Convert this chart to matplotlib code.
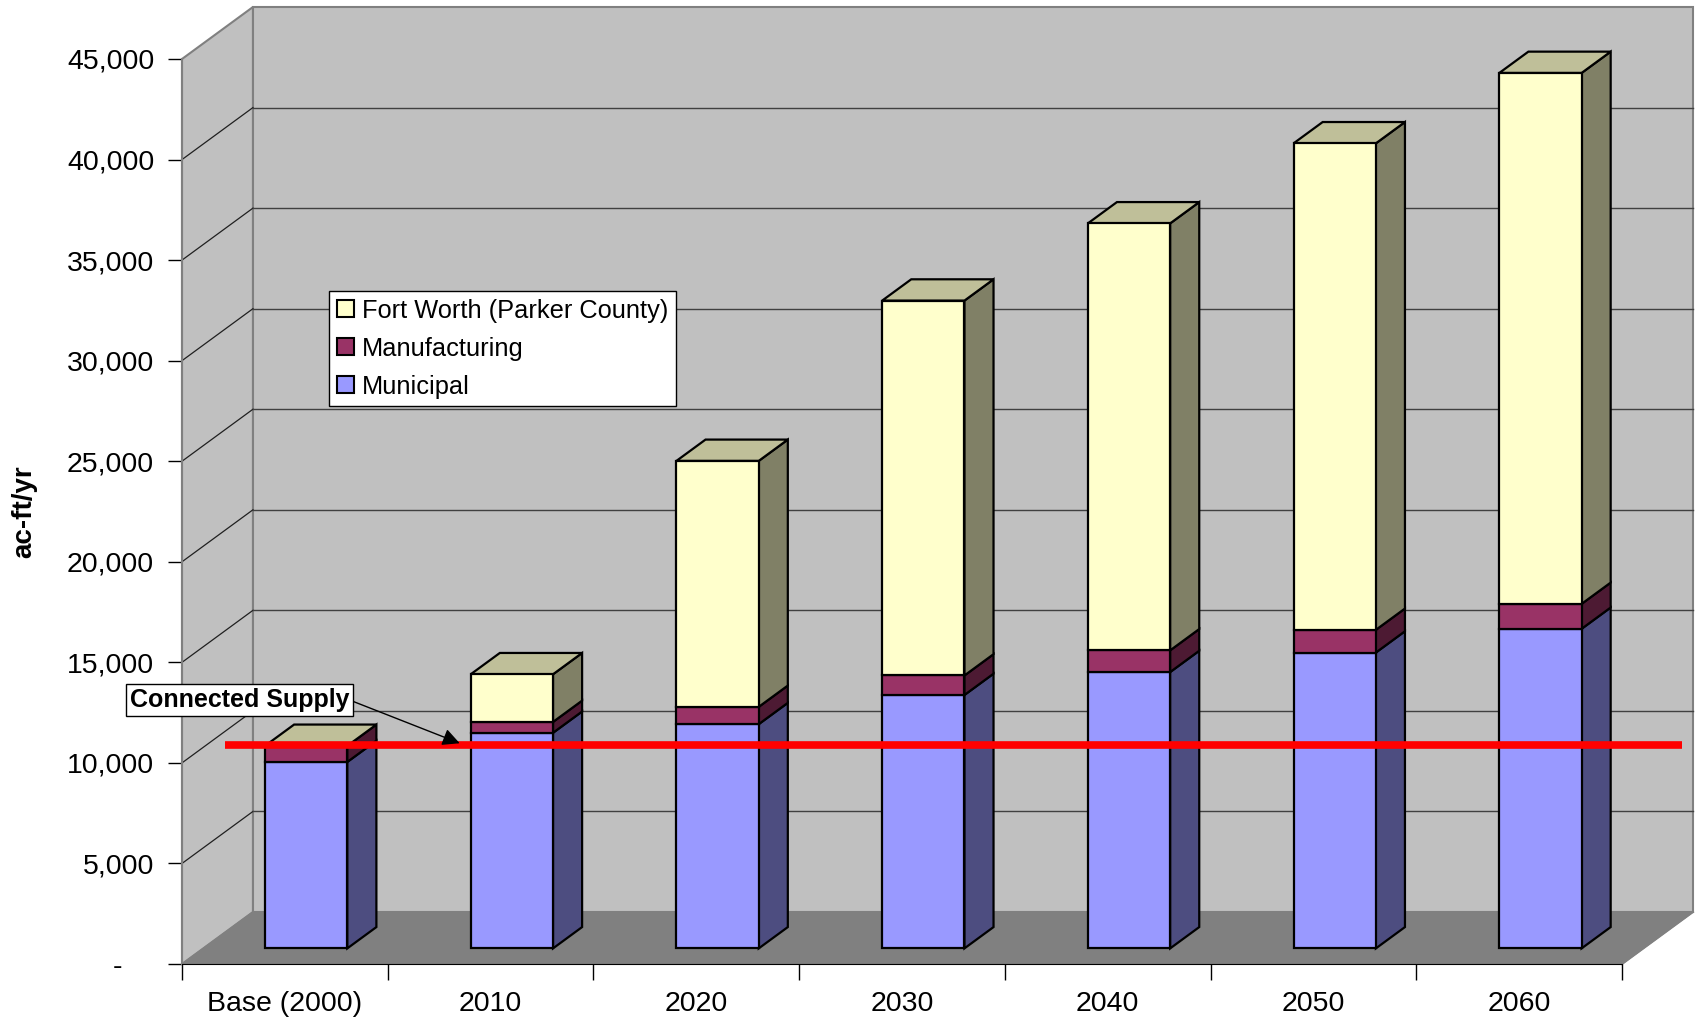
import numpy as np
import matplotlib.pyplot as plt
from matplotlib.patches import Polygon, Patch

plt.rcParams['font.family'] = ['Liberation Sans', 'DejaVu Sans']

# --- data (ac-ft/yr) ---
categories = ['Base (2000)', '2010', '2020', '2030', '2040', '2050', '2060']
municipal = [9270, 10720, 11150, 12600, 13740, 14710, 15890]
manufacturing = [800, 540, 860, 970, 1080, 1130, 1240]
fort_worth = [0, 2370, 12230, 18640, 21230, 24190, 26400]
connected_supply = 10100
y_ticks = [0, 5000, 10000, 15000, 20000, 25000, 30000, 35000, 40000, 45000]
y_tick_labels = ['-    '] + ['{:,}'.format(v) for v in y_ticks[1:]]

# name, values, front colour, side colour
series = [
    ('Municipal', municipal, '#9999ff', '#4d4d80'),
    ('Manufacturing', manufacturing, '#993366', '#4d1a33'),
    ('Fort Worth (Parker County)', fort_worth, '#ffffcc', '#808066'),
]
top_color = '#bfbf99'

# fake 3D: depth shifts points right and up
DX, DY = 0.345, 2586
D0, D1 = 0.3, 0.71      # bar depth range
HW = 0.2                # half bar width
YMAX = y_ticks[-1]
n = len(categories)


def proj(x, y, d):
    return (x + DX * d, y + DY * d)


fig = plt.figure(figsize=(16.98, 10.19), dpi=100)
ax = fig.add_axes([182 / 1698, 55 / 1019, 1440 / 1698, 905 / 1019])
ax.set_xlim(0, n)
ax.set_ylim(0, YMAX)
ax.set_facecolor('none')


def poly(pts, fc, ec, lw, z):
    ax.add_patch(Polygon(pts, closed=True, facecolor=fc, edgecolor=ec,
                         linewidth=lw, zorder=z, clip_on=False))


# walls and floor
poly([proj(0, 0, 0), proj(0, YMAX, 0), proj(0, YMAX, 1), proj(0, 0, 1)],
     '#c0c0c0', '#808080', 1.5, 0.5)
poly([proj(0, 0, 1), proj(n, 0, 1), proj(n, YMAX, 1), proj(0, YMAX, 1)],
     '#c0c0c0', '#808080', 1.5, 0.5)
poly([proj(0, 0, 0), proj(n, 0, 0), proj(n, 0, 1), proj(0, 0, 1)],
     '#808080', '#808080', 1.0, 0.55)
ax.plot(*zip(proj(n, 0, 0), proj(n, 0, 1)), color='#808080', lw=1.5,
        zorder=0.6, clip_on=False)

# gridlines on side and back wall
for v in y_ticks[1:-1]:
    ax.plot(*zip(proj(0, v, 0), proj(0, v, 1)), color='#202020', lw=0.9,
            zorder=0.7, clip_on=False)
    ax.plot(*zip(proj(0, v, 1), proj(n, v, 1)), color='#404040', lw=1.0,
            zorder=0.7, clip_on=False)

# stacked 3D bars
for i in range(n):
    c = i + 0.5
    bottom = 0
    for name, vals, front, side in series:
        h = vals[i]
        if h <= 0:
            continue
        top = bottom + h
        poly([proj(c + HW, bottom, D0), proj(c + HW, top, D0),
              proj(c + HW, top, D1), proj(c + HW, bottom, D1)],
             side, 'black', 1.6, 2)
        poly([proj(c - HW, bottom, D0), proj(c + HW, bottom, D0),
              proj(c + HW, top, D0), proj(c - HW, top, D0)],
             front, 'black', 1.6, 2.1)
        bottom = top
    poly([proj(c - HW, bottom, D0), proj(c + HW, bottom, D0),
          proj(c + HW, bottom, D1), proj(c - HW, bottom, D1)],
         top_color, 'black', 1.6, 2)

# connected supply line
ys = connected_supply + DY * D0
ax.plot([0.21, n + 0.29], [ys, ys], color='#ff0000', lw=5.5,
        solid_capstyle='butt', zorder=5, clip_on=False)
ax.annotate('Connected Supply', xy=(1.35, ys + 100), xytext=(0.28, 13130),
            fontsize=18, fontweight='bold', ha='center', va='center',
            bbox=dict(boxstyle='square,pad=0.15', fc='white', ec='black', lw=1),
            arrowprops=dict(arrowstyle='-|>', color='black', lw=1,
                            mutation_scale=26, shrinkA=0, shrinkB=0,
                            relpos=(1.0, 0.5)),
            annotation_clip=False, zorder=6)

# axes styling
ax.spines['top'].set_visible(False)
ax.spines['right'].set_visible(False)
ax.spines['left'].set_color('#808080')
ax.spines['left'].set_linewidth(1.5)
ax.spines['bottom'].set_color('black')
ax.spines['bottom'].set_zorder(3)

ax.set_yticks(y_ticks)
ax.set_yticklabels(y_tick_labels, fontsize=20.5)
ax.tick_params(axis='y', length=10, width=1, pad=10)

ax.set_xticks(np.arange(n) + 0.5)
ax.set_xticklabels(categories, fontsize=20.5)
ax.set_xticks(np.arange(n + 1), minor=True)
ax.tick_params(axis='x', which='major', length=0, pad=19.5)
ax.tick_params(axis='x', which='minor', length=11.5, width=1)

fig.text(24 / 1698, 1 - 512 / 1019, 'ac-ft/yr', rotation=90, fontsize=20,
         fontweight='bold', ha='center', va='center')

# legend
handles = [Patch(facecolor=s[2], edgecolor='black', lw=1.5, label=s[0])
           for s in reversed(series)]
leg = fig.legend(handles=handles, loc='upper left',
                 bbox_to_anchor=(329 / 1698, 1 - 291 / 1019), fontsize=18.3,
                 frameon=True, fancybox=False, edgecolor='black',
                 facecolor='white', framealpha=1.0,
                 borderaxespad=0, borderpad=0.3, labelspacing=0.55,
                 handlelength=0.68, handleheight=0.68, handletextpad=0.3)
leg.get_frame().set_linewidth(1.0)
leg.set_zorder(7)

fig.savefig('out.png', dpi=100)
